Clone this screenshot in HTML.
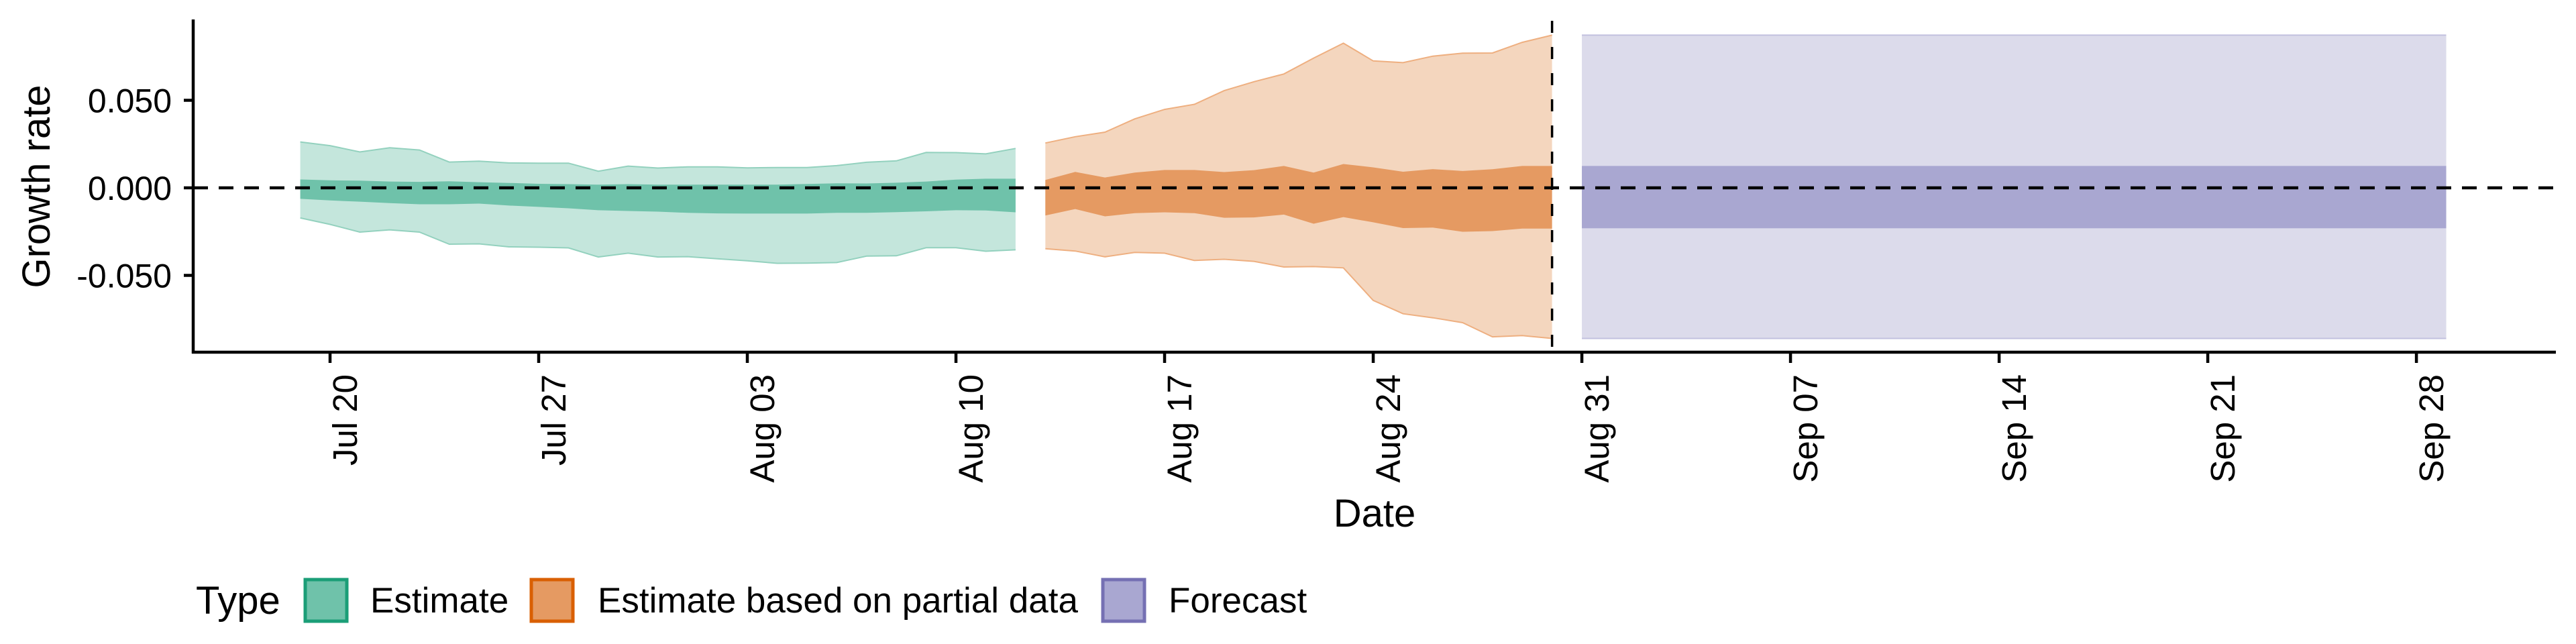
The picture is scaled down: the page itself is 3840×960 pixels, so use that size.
<!DOCTYPE html>
<html><head><meta charset="utf-8">
<style>
html,body{margin:0;padding:0;background:#fff;}
svg{display:block;font-family:"Liberation Sans",Arial,sans-serif;}
</style></head>
<body>
<svg id="chart" width="3840" height="960" viewBox="0 0 3840 960" xmlns="http://www.w3.org/2000/svg">
  <g id="bands"></g>
  <g id="axes"></g>
  <g id="legend">
    <text x="292" y="915" font-size="58">Type</text>
    <rect x="455" y="864" width="62" height="62" fill="#6FC2AA" stroke="#1B9E77" stroke-width="5"/>
    <text x="552" y="913" font-size="53">Estimate</text>
    <rect x="792" y="864" width="62" height="62" fill="#E59A62" stroke="#D95F02" stroke-width="5"/>
    <text x="891" y="913" font-size="53">Estimate based on partial data</text>
    <rect x="1644" y="864" width="62" height="62" fill="#A9A7D1" stroke="#7570B3" stroke-width="5"/>
    <text x="1742" y="913" font-size="53">Forecast</text>
  </g>
</svg>
<script>
// ---- data ----
const estStartDay = -1; // Jul 19 relative to Jul 20
const estOuterUpper = [0.0262,0.0241,0.0205,0.0229,0.0216,0.0147,0.0152,0.0142,0.0141,0.0141,0.0095,0.0124,0.0113,0.0120,0.0120,0.0114,0.0116,0.0116,0.0127,0.0146,0.0154,0.0202,0.0201,0.0194,0.0225];
const estOuterLower = [-0.0172,-0.0209,-0.0253,-0.0240,-0.0253,-0.0322,-0.0320,-0.0337,-0.0339,-0.0343,-0.0395,-0.0373,-0.0395,-0.0393,-0.0405,-0.0417,-0.0431,-0.0430,-0.0427,-0.0390,-0.0388,-0.0342,-0.0342,-0.0362,-0.0354];
const estInnerUpper = [0.0048,0.0043,0.0041,0.0036,0.0034,0.0037,0.0032,0.0028,0.0023,0.0021,0.0018,0.0021,0.0018,0.0018,0.0018,0.0018,0.0018,0.0022,0.0026,0.0025,0.0029,0.0036,0.0047,0.0052,0.0052];
const estInnerLower = [-0.0063,-0.0072,-0.0079,-0.0087,-0.0094,-0.0094,-0.0090,-0.0101,-0.0109,-0.0117,-0.0128,-0.0132,-0.0136,-0.0143,-0.0146,-0.0147,-0.0147,-0.0147,-0.0143,-0.0143,-0.0139,-0.0134,-0.0128,-0.0129,-0.0140];
const partStartDay = 24; // Aug 13
const partOuterUpper = [0.0256,0.0292,0.0318,0.0394,0.0448,0.0477,0.0555,0.0606,0.0650,0.0741,0.0826,0.0725,0.0715,0.0752,0.0769,0.0770,0.0831,0.0872];
const partOuterLower = [-0.0348,-0.0361,-0.0394,-0.0369,-0.0373,-0.0415,-0.0408,-0.0420,-0.0452,-0.0450,-0.0457,-0.0643,-0.0719,-0.0742,-0.0770,-0.0851,-0.0844,-0.0860];
const partInnerUpper = [0.0045,0.0091,0.0059,0.0087,0.0102,0.0102,0.0090,0.0101,0.0125,0.0087,0.0136,0.0117,0.0092,0.0107,0.0096,0.0106,0.0125,0.0125];
const partInnerLower = [-0.0158,-0.0121,-0.0163,-0.0145,-0.0140,-0.0145,-0.0171,-0.0169,-0.0153,-0.0205,-0.0167,-0.0197,-0.0230,-0.0227,-0.0251,-0.0247,-0.0233,-0.0233];
const fcDays = [42, 71]; // Aug 31 .. Sep 29
const fcOuter = [-0.0860, 0.0872];
const fcInner = [-0.0231, 0.0125];
const cutoffDay = 41; // Aug 30
const xTickDays = [0,7,14,21,28,35,42,49,56,63,70];
const xTickLabels = ["Jul 20","Jul 27","Aug 03","Aug 10","Aug 17","Aug 24","Aug 31","Sep 07","Sep 14","Sep 21","Sep 28"];
const yTickValues = [0.05, 0, -0.05];
const yTickLabels = ["0.050","0.000","-0.050"];

// ---- scales ----
const X0 = 492, PXDAY = 44.43;
const Y0 = 280, PXUNIT = 2610;
const xs = d => X0 + d * PXDAY;
const ys = v => Y0 - v * PXUNIT;
const NS = "http://www.w3.org/2000/svg";
const bands = document.getElementById('bands');
const axes = document.getElementById('axes');
function mk(tag, attrs, parent){
  const el = document.createElementNS(NS, tag);
  for (const k in attrs) el.setAttribute(k, attrs[k]);
  parent.appendChild(el);
  return el;
}
function ribbonPts(start, up, lo){
  const a = up.map((v,i)=>xs(start+i).toFixed(1)+','+ys(v).toFixed(1));
  const b = lo.map((v,i)=>xs(start+i).toFixed(1)+','+ys(v).toFixed(1)).reverse();
  return a.concat(b).join(' ');
}
function lineRow(start, arr){ return arr.map((v,i)=>xs(start+i).toFixed(1)+','+ys(v).toFixed(1)).join(' '); }
function ribbon(name, start, up, lo, fill, stroke){
  const p = mk('polygon', {points: ribbonPts(start, up, lo), fill: fill}, bands);
  
  
  if (stroke){
    [up, lo].forEach((arr, k) => {
      const l = mk('polyline', {points: lineRow(start, arr), fill:'none', stroke: stroke, 'stroke-width': 2}, bands);
      
      
    });
  }
}
ribbon('estimate-outer-band', estStartDay, estOuterUpper, estOuterLower, '#C4E6DC', '#93D1BE');
ribbon('estimate-inner-band', estStartDay, estInnerUpper, estInnerLower, '#6FC2AA', null);
ribbon('partial-outer-band', partStartDay, partOuterUpper, partOuterLower, '#F4D6BE', '#EEAF80');
ribbon('partial-inner-band', partStartDay, partInnerUpper, partInnerLower, '#E59A62', null);
ribbon('forecast-outer-band', fcDays[0], [fcOuter[1], fcOuter[1]], [fcOuter[0], fcOuter[0]].map(v=>v).slice(0,2), '#DCDBEB', '#C2C0DF');
// forecast spans more days: redraw with full width
bands.lastChild.remove(); bands.lastChild.remove(); bands.lastChild.remove();
(function(){
  const x1 = xs(fcDays[0]), x2 = xs(fcDays[1]);
  const o = mk('rect', {x:x1, y:ys(fcOuter[1]), width:x2-x1, height:ys(fcOuter[0])-ys(fcOuter[1]), fill:'#DCDBEB'}, bands);
  
  
  [fcOuter[1], fcOuter[0]].forEach(v => {
    const l = mk('line', {x1:x1, x2:x2, y1:ys(v), y2:ys(v), stroke:'#C2C0DF', 'stroke-width':2}, bands);
    
    
  });
  const n = mk('rect', {x:x1, y:ys(fcInner[1]), width:x2-x1, height:ys(fcInner[0])-ys(fcInner[1]), fill:'#A9A7D1'}, bands);
  
  
})();

// zero reference line
const zl = mk('line', {x1:288, x2:3810, y1:ys(0), y2:ys(0), stroke:'#000', 'stroke-width':4.5, 'stroke-dasharray':'22 16'}, axes);


// cutoff line
const cl = mk('line', {x1:xs(cutoffDay), x2:xs(cutoffDay), y1:31, y2:525, stroke:'#000', 'stroke-width':3.5, 'stroke-dasharray':'18 21'}, axes);



// axes lines
const ya = mk('line', {x1:288, x2:288, y1:29, y2:527, stroke:'#000', 'stroke-width':4.5}, axes);


const xa = mk('line', {x1:286, x2:3810, y1:525, y2:525, stroke:'#000', 'stroke-width':4.5}, axes);



yTickValues.forEach((v,i) => {
  const t = mk('line', {x1:274, x2:288, y1:ys(v), y2:ys(v), stroke:'#000', 'stroke-width':4.5}, axes);
  
  
  const tx = mk('text', {x:256, y:ys(v)+18, 'text-anchor':'end', 'font-size':50, fill:'#000'}, axes);
  tx.textContent = yTickLabels[i];
  
  
});
xTickDays.forEach((d,i) => {
  const x = xs(d);
  const t = mk('line', {x1:x, x2:x, y1:525, y2:541, stroke:'#000', 'stroke-width':4.5}, axes);
  
  
  const tx = mk('text', {transform:'translate('+(x+40)+',558) rotate(-90)', 'text-anchor':'end', 'font-size':51, fill:'#000'}, axes);
  tx.textContent = xTickLabels[i];
  
  
});
const yt = mk('text', {transform:'translate(74,278) rotate(-90)', 'text-anchor':'middle', 'font-size':58, fill:'#000'}, axes);
yt.textContent = 'Growth rate';


const xt = mk('text', {x:2049, y:785, 'text-anchor':'middle', 'font-size':58, fill:'#000'}, axes);
xt.textContent = 'Date';


</script>
</body></html>
